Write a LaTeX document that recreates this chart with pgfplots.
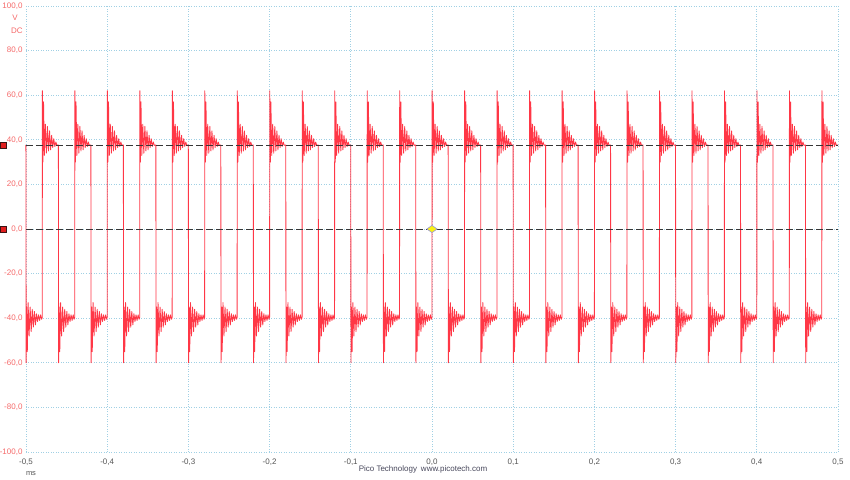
\documentclass[border=0pt]{standalone}
\usepackage{pgfplots}
\pgfplotsset{compat=1.18}
\usepackage{pgfplotstable}
\usetikzlibrary{calc}
\usepackage{fontspec}
\setmainfont{Liberation Sans}
\definecolor{wave}{RGB}{255,55,70}
\definecolor{gridc}{RGB}{160,208,228}
\definecolor{ylab}{RGB}{245,105,105}
\definecolor{xlab}{RGB}{85,85,85}
\definecolor{dashc}{RGB}{55,55,55}
\definecolor{footc}{RGB}{70,70,90}

% one period of the trace, time in ms after a rising edge
\pgfplotstableread{
t v
0.0000 -39.5
0.0002 62
0.0009 30
0.0016 57
0.0026 33
0.0038 47
0.0051 34
0.0064 46
0.0077 35
0.0090 44
0.0103 35.5
0.0116 42
0.0129 36.5
0.0142 40.5
0.0155 37
0.0168 39
0.0180 37.5
0.0199 37.7
0.0202 -60
0.0209 -35
0.0216 -55
0.0226 -33
0.0238 -48
0.0251 -35
0.0264 -46
0.0277 -36
0.0290 -44
0.0303 -37
0.0316 -43
0.0329 -38
0.0342 -41.5
0.0355 -38.5
0.0368 -41
0.0381 -38.5
0.0393 -40.5
0.0400 -39.5
}\cyc

\begin{document}
\begin{tikzpicture}[x=1pt,y=1pt]
\begin{axis}[
  name=ax,
  scale only axis, width=812pt, height=446pt,
  xmin=-0.5, xmax=0.5, ymin=-100, ymax=100,
  clip=false,
  axis line style={draw=none},
  major tick length=0pt,
  xtick={-0.5,-0.4,-0.3,-0.2,-0.1,0,0.1,0.2,0.3,0.4,0.5},
  xticklabels={{-0,5},{-0,4},{-0,3},{-0,2},{-0,1},{0,0},{0,1},{0,2},{0,3},{0,4},{0,5}},
  ytick={-100,-80,-60,-40,-20,0,20,40,60,80,100},
  yticklabels={{-100,0},{-80,0},{-60,0},{-40,0},{-20,0},{0,0},{20,0},{40,0},{60,0},{80,0},{100,0}},
  grid=major,
  grid style={gridc, line width=0.8pt, dash pattern=on 0.9pt off 1.6pt},
  x tick label style={font=\fontsize{8}{9}\selectfont, text=xlab, anchor=center, yshift=-10pt},
  y tick label style={font=\fontsize{8}{9}\selectfont, text=ylab},
]
\pgfplotsinvokeforeach{-13,...,12}{
  \addplot[draw=wave, line width=0.85pt, line join=round, restrict x to domain=-0.5001:0.5001]
    table[x expr=\thisrow{t}+0.04*#1, y=v]{\cyc};
}
\addplot[dashc, line width=0.8pt, dash pattern=on 7pt off 3pt] coordinates {(-0.5,37.7) (0.5,37.7)};
\addplot[dashc, line width=0.8pt, dash pattern=on 7pt off 3pt] coordinates {(-0.5,0) (0.5,0)};
\addplot[only marks, mark=square*, mark size=3pt,
  mark options={fill={rgb,255:red,225;green,30;blue,30}, draw={rgb,255:red,60;green,20;blue,20}, line width=0.6pt}]
  coordinates {(-0.5283,37.7) (-0.5283,0)};
\addplot[only marks, mark=diamond*, mark size=3.6pt,
  mark options={xscale=1.9, fill={rgb,255:red,250;green,240;blue,20}, draw={rgb,255:red,150;green,150;blue,220}, line width=0.6pt}]
  coordinates {(0,0)};
\end{axis}
\coordinate (O) at ($(ax.south west)+(-26,-27)$);
\node[text=ylab, font=\fontsize{8}{9}\selectfont] at ($(O)+(15,461)$) {V};
\node[text=ylab, font=\fontsize{8}{9}\selectfont] at ($(O)+(17,448)$) {DC};
\node[text=xlab, font=\fontsize{7.5}{9}\selectfont] at ($(O)+(31,5)$) {ms};
\node[text=footc, font=\fontsize{8}{9}\selectfont] at ($(O)+(423,10)$) {Pico Technology\enspace www.picotech.com};
\pgfresetboundingbox
\path[use as bounding box] (O) rectangle ($(O)+(850,479)$);
\end{tikzpicture}
\end{document}
